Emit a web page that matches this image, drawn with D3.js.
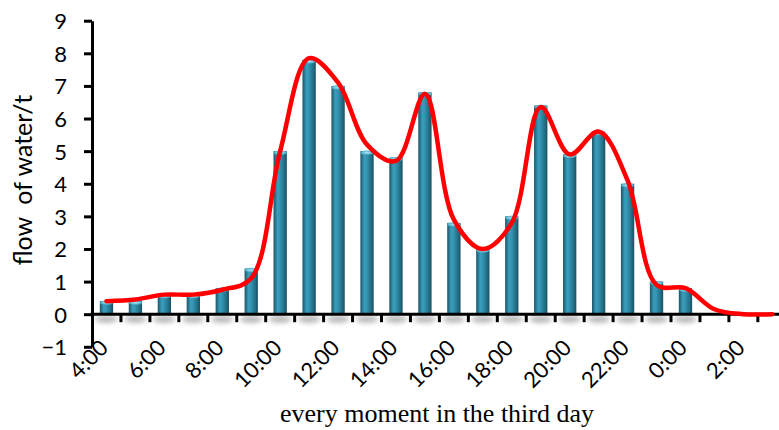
<!DOCTYPE html>
<html>
<head>
<meta charset="utf-8">
<script src="https://cdn.jsdelivr.net/npm/d3@7"></script>
<style>
  html, body { margin: 0; padding: 0; background: #fff; }
  svg { display: block; }
</style>
</head>
<body>
<svg id="chart" width="779" height="430"></svg>
<script>
const categories = ["4:00","5:00","6:00","7:00","8:00","9:00","10:00","11:00","12:00","13:00","14:00","15:00",
                    "16:00","17:00","18:00","19:00","20:00","21:00","22:00","23:00","0:00","1:00","2:00","3:00"];
const tickLabels = ["4:00","6:00","8:00","10:00","12:00","14:00","16:00","18:00","20:00","22:00","0:00","2:00"];
const barValues = [0.4,0.4,0.6,0.6,0.8,1.4,5.0,7.8,7.0,5.0,4.8,6.8,2.8,2.0,3.0,6.4,4.9,5.6,4.0,1.0,0.8,0,0,0];
const lineValues = [0.4,0.45,0.6,0.6,0.75,1.1,5.0,7.85,7.1,5.2,4.7,6.75,2.9,2.0,2.8,6.35,4.9,5.6,4.1,0.9,0.8,0.15,0,0];
const yTicks = [-1,0,1,2,3,4,5,6,7,8,9];

const svg = d3.select("#chart");
const left = 92, step = 28.95;
const x = d3.scaleBand().domain(categories).range([left, left + step * categories.length]).padding(0);
const y = d3.scaleLinear().domain([-1, 9]).range([346.8, 20.7]);

const defs = svg.append("defs");
const grad = defs.append("linearGradient").attr("id", "barGrad").attr("x1", "0").attr("x2", "1").attr("y1", "0").attr("y2", "0");
grad.append("stop").attr("offset", "0").attr("stop-color", "#1c5567");
grad.append("stop").attr("offset", "0.3").attr("stop-color", "#3a9dbb");
grad.append("stop").attr("offset", "0.45").attr("stop-color", "#3597b5");
grad.append("stop").attr("offset", "0.8").attr("stop-color", "#236f86");
grad.append("stop").attr("offset", "1").attr("stop-color", "#1a4f60");
const capGrad = defs.append("radialGradient").attr("id", "capGrad");
capGrad.append("stop").attr("offset", "0").attr("stop-color", "#a8e8f6");
capGrad.append("stop").attr("offset", "1").attr("stop-color", "#45a8c6");
const blur = defs.append("filter").attr("id", "shadowBlur").attr("x", "-50%").attr("y", "-100%").attr("width", "200%").attr("height", "300%");
blur.append("feGaussianBlur").attr("stdDeviation", "2.5");

const bw = x.bandwidth() * 0.46;
const bx = d => x(d) + (x.bandwidth() - bw) / 2;

// shadows under bars
svg.append("g").selectAll("ellipse").data(categories.filter((c, i) => barValues[i] > 0)).join("ellipse")
  .attr("cx", d => x(d) + x.bandwidth() / 2)
  .attr("cy", y(0) + 5)
  .attr("rx", bw * 0.85).attr("ry", 3.5)
  .attr("fill", "#8f8f8f").attr("opacity", 0.65)
  .attr("filter", "url(#shadowBlur)");

// bars
const bars = svg.append("g");
bars.selectAll("rect").data(categories).join("rect")
  .attr("x", d => bx(d))
  .attr("y", (d, i) => y(barValues[i]))
  .attr("width", bw)
  .attr("height", (d, i) => y(0) - y(barValues[i]))
  .attr("fill", "url(#barGrad)");
bars.selectAll("ellipse").data(categories.filter((c, i) => barValues[i] > 0)).join("ellipse")
  .attr("cx", d => x(d) + x.bandwidth() / 2)
  .attr("cy", d => y(barValues[categories.indexOf(d)]) + 1.5)
  .attr("rx", bw / 2).attr("ry", 2.2)
  .attr("fill", "url(#capGrad)");

// y axis
const yAxis = svg.append("g").attr("transform", `translate(${left},0)`)
  .call(d3.axisLeft(y).tickValues(yTicks).tickSize(8).tickSizeOuter(0).tickFormat(d3.format("d")));
yAxis.select(".domain").attr("stroke", "#000").attr("stroke-width", 3);
yAxis.selectAll(".tick line").attr("stroke", "#000").attr("stroke-width", 3);
yAxis.selectAll(".tick text").attr("font-family", "Lato, 'Open Sans', sans-serif").attr("font-size", 22)
  .attr("fill", "#000").attr("x", -25).attr("dy", "0.36em");

// x axis line and ticks
const xAxisG = svg.append("g");
xAxisG.append("line").attr("x1", left - 1.5).attr("x2", 779).attr("y1", y(0)).attr("y2", y(0))
  .attr("stroke", "#000").attr("stroke-width", 3);
xAxisG.selectAll("line.tk").data(categories.slice(1)).join("line").attr("class", "tk")
  .attr("x1", d => x(d)).attr("x2", d => x(d))
  .attr("y1", y(0)).attr("y2", y(0) + 8)
  .attr("stroke", "#000").attr("stroke-width", 3);

const xLab = svg.append("g").attr("transform", `translate(0,${y(0)})`)
  .call(d3.axisBottom(x).tickValues(tickLabels).tickSize(0));
xLab.select(".domain").remove();
xLab.selectAll(".tick text")
  .attr("font-family", "Lato, 'Open Sans', sans-serif").attr("font-size", 22).attr("fill", "#000")
  .attr("text-anchor", "end")
  .attr("transform", "translate(3,35) rotate(-45)")
  .attr("x", 0).attr("y", 0).attr("dy", "0");

// smooth line
const line = d3.line()
  .x((d, i) => x(categories[i]) + x.bandwidth() / 2)
  .y(d => y(d))
  .curve(d3.curveCatmullRom.alpha(0.5));
svg.append("path").datum(lineValues).attr("d", line)
  .attr("fill", "none").attr("stroke", "#ff0000").attr("stroke-width", 4.5)
  .attr("stroke-linejoin", "round").attr("stroke-linecap", "round");

// titles
svg.append("text").attr("x", 437).attr("y", 422).attr("text-anchor", "middle")
  .attr("font-family", "'Liberation Serif', 'Times New Roman', serif").attr("font-size", 26)
  .attr("fill", "#000").text("every moment in the third day");
svg.append("text").attr("transform", "translate(32,180) rotate(-90)").attr("text-anchor", "middle")
  .attr("font-family", "Lato, 'Open Sans', sans-serif").attr("font-size", 25)
  .attr("fill", "#000").attr("xml:space", "preserve").style("white-space", "pre").text("flow  of water/t");
</script>
</body>
</html>
